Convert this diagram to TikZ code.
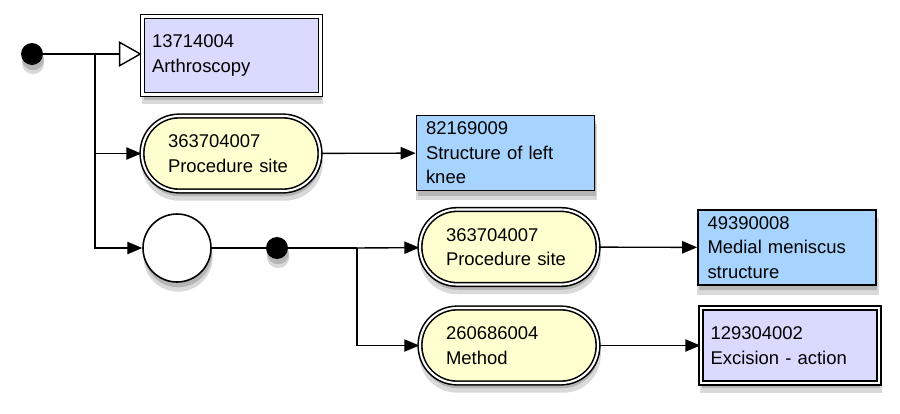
\documentclass[tikz,border=0pt]{standalone}
\usepackage{fontspec}
\setmainfont{Liberation Sans}
\usetikzlibrary{arrows.meta, shadows}
\definecolor{lavender}{RGB}{218,218,255}
\definecolor{paleyellow}{RGB}{255,255,208}
\definecolor{skyblue}{RGB}{166,212,255}

\begin{document}
\begin{tikzpicture}[x=0.02cm, y=-0.02cm,
  shade/.style={
    general shadow={shadow xshift=0.6pt, shadow yshift=-5pt, shadow scale=1.02, fill=black, opacity=0.15},
    drop shadow={shadow xshift=0.6pt, shadow yshift=-3pt, opacity=0.4}},
  txt/.style={font=\fontsize{10.5}{14}\selectfont, align=left, inner ysep=0pt},
  box/.style={txt, draw, line width=1pt, fill=skyblue, shade, text width=3.18cm, inner xsep=0.19cm, minimum height=1.5cm},
  dblbox/.style={txt, draw, line width=0.9pt, double=white, double distance=1.2pt, fill=lavender, shade, text width=3.18cm, inner xsep=0.19cm, minimum height=1.5cm},
  pill/.style={txt, draw, line width=0.9pt, double=white, double distance=1.2pt, fill=paleyellow, shade, rounded corners=0.74cm, text width=2.52cm, inner xsep=0.52cm, minimum height=1.5cm},
  dot/.style={circle, fill=black, inner sep=0pt, minimum size=0.44cm, shade},
  link/.style={line width=0.8pt},
  rel/.style={link, -{Triangle[length=8.5pt, width=7pt]}},
  isa/.style={link, -{Triangle[open, length=13pt, width=14.5pt, fill=white]}}
]
  \useasboundingbox (0,0) rectangle (900,413);

  % nodes
  \node[dot] (start) at (32,54) {};
  \node[dblbox, minimum height=1.56cm] (arth) at (231.5,55.5) {13714004\\Arthroscopy};
  \node[pill] (site1) at (231,153.5) {363704007\\Procedure site};
  \node[box] (knee) at (505.5,153) {82169009\\Structure of left\\knee};
  \node[draw, circle, fill=white, line width=0.9pt, minimum size=1.36cm, shade] (grp) at (177,248) {};
  \node[dot] (join) at (277,248) {};
  \node[pill] (site2) at (509,247) {363704007\\Procedure site};
  \node[pill] (meth) at (509,345.5) {260686004\\Method};
  \node[box] (menis) at (787,247.5) {49390008\\Medial meniscus\\structure};
  \node[dblbox] (exc) at (790,345.5) {129304002\\Excision - action};

  \coordinate (fork1) at (95,54);
  \coordinate (fork2) at (357,248);

  % connectors
  \draw[link] (start) -- (fork1);
  \draw[isa] (fork1) -- (fork1 -| arth.west);
  \draw[rel] (fork1) |- (site1);
  \draw[rel] (fork1) |- (grp);
  \draw[rel] (site1) -- (knee);
  \draw[link] (grp) -- (join);
  \draw[link] (join) -- (fork2);
  \draw[rel] (fork2) -- (site2);
  \draw[rel] (fork2) |- (meth);
  \draw[rel] (site2) -- (menis);
  \draw[rel] (meth) -- (exc);
\end{tikzpicture}
\end{document}
